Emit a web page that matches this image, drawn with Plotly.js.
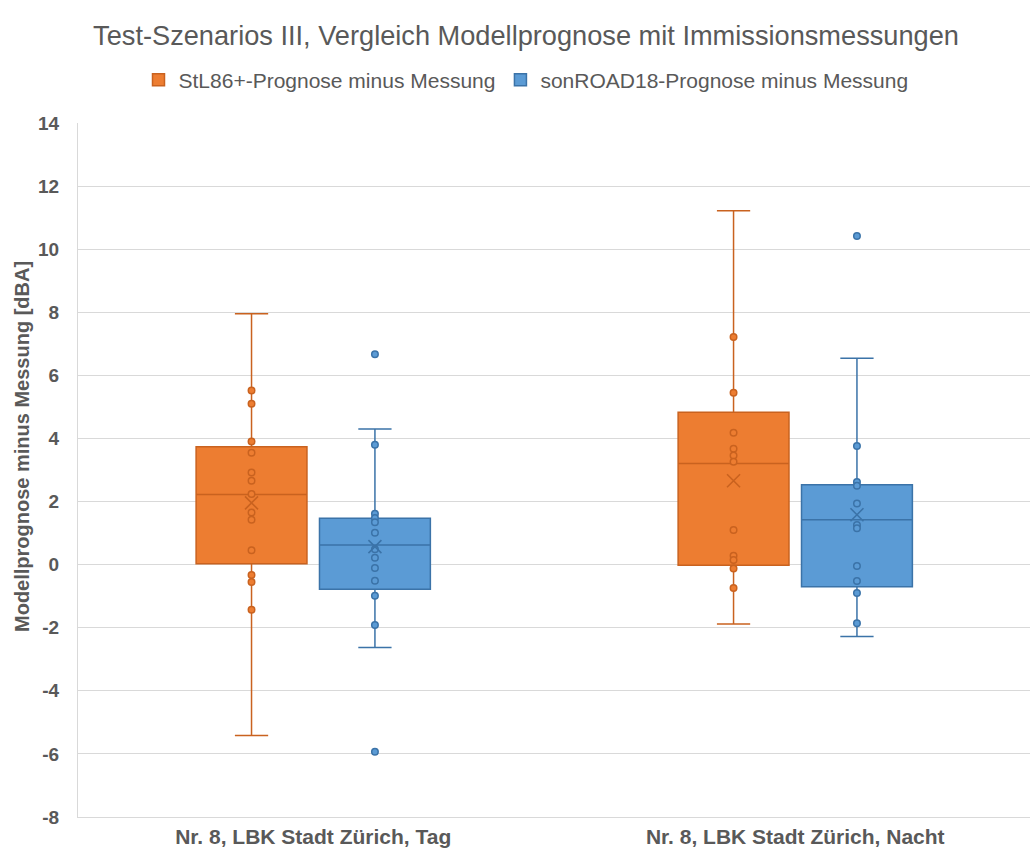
<!DOCTYPE html>
<html><head><meta charset="utf-8">
<script src="https://cdn.plot.ly/plotly-3.0.1.min.js"></script>
<style>html,body{margin:0;padding:0;background:#fff}#chart{width:1030px;height:854px}</style>
</head><body><div id="chart"></div>
<script>
const categories = ["Nr. 8, LBK Stadt Zürich, Tag", "Nr. 8, LBK Stadt Zürich, Nacht"];
const seriesNames = ["StL86+-Prognose minus Messung", "sonROAD18-Prognose minus Messung"];
const yAxisTitle = "Modellprognose minus Messung [dBA]";

// StL86+ (orange): box statistics per category [Tag, Nacht]
const stlLowerWhisker = [-5.42, -1.88];
const stlQ1 = [0.03, -0.02];
const stlMedian = [2.22, 3.21];
const stlQ3 = [3.74, 4.83];
const stlUpperWhisker = [7.95, 11.22];
const stlMean = [1.96, 2.66];
const stlPointsTag = [5.52, 5.10, 3.90, 3.55, 2.92, 2.66, 2.24, 1.65, 1.42, 0.46, -0.33, -0.55, -1.43];
const stlPointsNacht = [7.22, 5.45, 4.18, 3.67, 3.46, 3.26, 1.10, 0.28, 0.15, -0.12, -0.74];

// sonROAD18 (blue)
const sonLowerWhisker = [-2.63, -2.28];
const sonQ1 = [-0.78, -0.70];
const sonMedian = [0.62, 1.42];
const sonQ3 = [1.47, 2.53];
const sonUpperWhisker = [4.30, 6.54];
const sonMean = [0.57, 1.58];
const sonPointsTag = [6.67, 3.80, 1.61, 1.48, 1.34, 1.01, 0.49, 0.22, -0.11, -0.51, -0.99, -1.91, -5.93];
const sonPointsNacht = [10.42, 3.76, 2.62, 2.50, 1.94, 1.26, 1.15, -0.04, -0.52, -0.90, -1.86];

const yTicks = [-8, -6, -4, -2, 0, 2, 4, 6, 8, 10, 12, 14];

const OFF = 0.128, BW = 0.23;
const orange = {fill: '#ED7D31', line: '#C9621F'};
const blue = {fill: '#5B9BD5', line: '#3B73A8'};

function series(name, col, off, lw, q1, med, q3, uw, mean, ptsList) {
  const pos = categories.map((c, i) => i + off);
  const traces = [];
  traces.push({
    type: 'box', name: name, x: pos, q1: q1, median: med, q3: q3,
    lowerfence: lw, upperfence: uw, width: BW, whiskerwidth: 0.3,
    boxpoints: false, fillcolor: col.fill, line: {color: col.line, width: 1.5},
    hoverinfo: 'y', showlegend: true
  });
  const px = [], py = [];
  ptsList.forEach((arr, i) => arr.forEach(v => { px.push(pos[i]); py.push(v); }));
  traces.push({
    type: 'scatter', mode: 'markers', x: px, y: py, showlegend: false, hoverinfo: 'y',
    marker: {symbol: 'circle', size: 6.5, color: col.fill, line: {color: col.line, width: 1.5}}
  });
  traces.push({
    type: 'scatter', mode: 'markers', x: pos, y: mean, showlegend: false, hoverinfo: 'y',
    marker: {symbol: 'x-thin-open', size: 13, color: col.line, line: {color: col.line, width: 1.6}}
  });
  return traces;
}

const data = [].concat(
  series(seriesNames[0], orange, -OFF, stlLowerWhisker, stlQ1, stlMedian, stlQ3, stlUpperWhisker, stlMean, [stlPointsTag, stlPointsNacht]),
  series(seriesNames[1], blue, OFF, sonLowerWhisker, sonQ1, sonMedian, sonQ3, sonUpperWhisker, sonMean, [sonPointsTag, sonPointsNacht])
);

const layout = {
  width: 1030, height: 854,
  margin: {l: 78, r: 0, t: 123, b: 37},
  paper_bgcolor: '#fff', plot_bgcolor: '#fff',
  font: {family: 'Liberation Sans, Arial, sans-serif', color: '#595959'},
  title: {text: 'Test-Szenarios III, Vergleich Modellprognose mit Immissionsmessungen',
          font: {size: 27.2, color: '#595959'}, xref: 'container', x: 526/1030, xanchor: 'center',
          yref: 'container', y: 1 - 35/854, yanchor: 'middle'},
  legend: {orientation: 'h', xref: 'container', x: 526/1030, xanchor: 'center', yref: 'container', y: 1 - 80/854, yanchor: 'middle',
           font: {size: 21, color: '#595959'}, itemwidth: 30, traceorder: 'normal'},
  xaxis: {range: [-0.488, 1.487], tickmode: 'array', tickvals: categories.map((c, i) => i), ticktext: categories,
          showgrid: false, zeroline: false, showline: true, linecolor: '#D9D9D9', linewidth: 1,
          ticks: '', tickfont: {size: 21, color: '#595959', weight: 'bold'}, ticklabelstandoff: 1, fixedrange: true},
  yaxis: {range: [-8, 14], tickmode: 'array', tickvals: yTicks, ticktext: yTicks.map(String),
          showgrid: true, gridcolor: '#D9D9D9', gridwidth: 1, zeroline: false,
          showline: true, linecolor: '#D9D9D9', linewidth: 1, ticks: '',
          tickfont: {size: 19, color: '#595959', weight: 'bold'}, ticklabelstandoff: 14,
          fixedrange: true},
  annotations: [{
    text: yAxisTitle, textangle: -90, showarrow: false,
    xref: 'paper', x: (22 - 78) / 952, xanchor: 'center',
    yref: 'paper', y: (817 - 447) / 694, yanchor: 'middle',
    font: {size: 20, color: '#595959', weight: 'bold'}
  }]
};

Plotly.newPlot('chart', data, layout, {displayModeBar: false, staticPlot: true});
</script></body></html>
